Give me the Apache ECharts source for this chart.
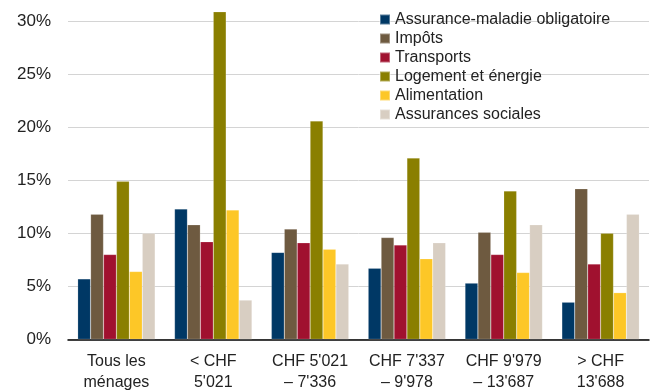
<!DOCTYPE html>
<html>
<head>
<meta charset="utf-8">
<script src="https://cdn.jsdelivr.net/npm/echarts@6/dist/echarts.min.js"></script>
<style>
  html, body { margin: 0; padding: 0; background: #fff; }
  #chart { width: 656px; height: 392px; }
</style>
</head>
<body>
<div id="chart"></div>
<script>
// Household income brackets (monthly gross income)
var categories = ["Tous les\nménages", "< CHF\n5'021", "CHF 5'021\n– 7'336", "CHF 7'337\n– 9'978", "CHF 9'979\n– 13'687", "> CHF\n13'688"];

// Share of household budget, in percent
var assuranceMaladie = [5.7, 12.3, 8.2, 6.7, 5.3, 3.5];
var impots           = [11.8, 10.8, 10.4, 9.6, 10.1, 14.2];
var transports       = [8.0, 9.2, 9.1, 8.9, 8.0, 7.1];
var logementEnergie  = [14.9, 30.9, 20.6, 17.1, 14.0, 10.0];
var alimentation     = [6.4, 12.2, 8.5, 7.6, 6.3, 4.4];
var assurancesSoc    = [10.0, 3.7, 7.1, 9.1, 10.8, 11.8];

var seriesNames = ["Assurance-maladie obligatoire", "Impôts", "Transports", "Logement et énergie", "Alimentation", "Assurances sociales"];
var seriesData = [assuranceMaladie, impots, transports, logementEnergie, alimentation, assurancesSoc];
var seriesColors = ["#003865", "#6e5a40", "#a0112f", "#8a7f00", "#fdc727", "#d8cec2"];

var chart = echarts.init(document.getElementById('chart'), null, { renderer: 'canvas' });

var font = '"Liberation Sans", Arial, sans-serif';

chart.setOption({
  animation: false,
  textStyle: { fontFamily: font },
  grid: { left: 68, right: 7, top: 21.3, bottom: 52.7, containLabel: false, outerBoundsMode: 'none' },
  legend: {
    orient: 'vertical',
    left: 379,
    top: 10,
    padding: 0,
    itemWidth: 10,
    itemHeight: 10,
    itemGap: 0,
    icon: 'rect',
    textStyle: { fontSize: 16, color: '#222', lineHeight: 19, fontFamily: font },
    data: seriesNames
  },
  xAxis: {
    type: 'category',
    data: categories,
    axisLine: { lineStyle: { color: '#000', width: 1.5 } },
    axisTick: { length: 5, lineStyle: { color: '#000', width: 1 } },
    axisLabel: { color: '#222', fontSize: 16, lineHeight: 21, margin: 12, interval: 0, fontFamily: font }
  },
  yAxis: {
    type: 'value',
    min: 0,
    max: 30,
    interval: 5,
    axisLine: { show: false },
    axisTick: { show: false },
    axisLabel: { color: '#222', fontSize: 17, margin: 17, formatter: '{value}%', fontFamily: font },
    splitLine: { lineStyle: { color: '#d4d4d4', width: 1 } }
  },
  series: seriesNames.map(function (name, i) {
    return {
      name: name,
      type: 'bar',
      data: seriesData[i],
      clip: false,
      barGap: '0%',
      barCategoryGap: '20%',
      itemStyle: { color: seriesColors[i], borderColor: 'rgba(255,255,255,0.35)', borderWidth: 0.5 }
    };
  })
});
</script>
</body>
</html>
